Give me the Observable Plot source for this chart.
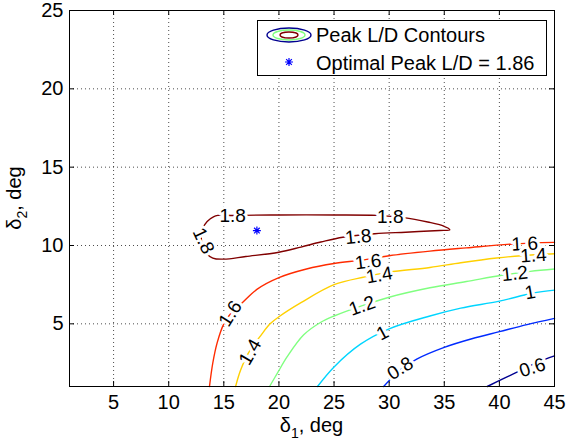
<!DOCTYPE html>
<html><head><meta charset="utf-8">
<script src="https://cdn.jsdelivr.net/npm/d3@7"></script>
<script src="https://cdn.jsdelivr.net/npm/@observablehq/plot@0.6"></script>
<style>
body{margin:0;background:#fff;}
#chart{position:relative;width:566px;height:441px;font-family:"Liberation Sans",Arial,Helvetica,sans-serif;}
#legend{position:absolute;left:257px;top:20px;width:288px;height:54px;border:1px solid #000;background:#fff;}
#legend svg{position:absolute;left:0;top:0;}
</style></head><body><div id="chart"></div>
<script>
// ---- data ----
const xTicks = [5, 10, 15, 20, 25, 30, 35, 40, 45];
const yTicks = [5, 10, 15, 20, 25];
const levels = [0.6, 0.8, 1.0, 1.2, 1.4, 1.6, 1.8];
const levelColors = ["#000090", "#002BFF", "#00D5FF", "#80FF80", "#FFD000", "#FF2B00", "#800000"];

const contour06 = [[38.9,1],[40.5,1.55],[42,2.05],[43.5,2.55],[45,2.95]];
const contour08 = [[29.5,1],[31,2.05],[32.5,2.75],[35,3.5],[37.5,4.05],[40,4.5],[42.5,4.95],[45,5.35]];
const contour10 = [[23.5,1],[25,2.25],[27.4,3.7],[30,4.68],[33.7,5.5],[36.5,6.0],[40,6.45],[43,6.95],[45,7.15]];
const contour12 = [[19.15,1],[19.9,1.9],[20.75,2.9],[22.25,4.3],[23.8,5.1],[25,5.5],[27.5,6.15],[30,6.7],[33.7,7.3],[37,7.7],[40.2,8.1],[42.8,8.35],[45,8.5]];
const contour14 = [[16.07,1],[16.5,2.0],[17.2,3.1],[18.4,4.3],[19.2,5.0],[20,5.45],[22,6.35],[25,7.5],[27.8,8.0],[30,8.3],[33.7,8.6],[36.5,8.9],[39.75,9.2],[42,9.35],[45,9.47]];
const contour16 = [[13.7,1],[14.0,2.5],[14.4,3.8],[15.0,5.0],[15.8,5.8],[16.6,6.3],[18,7.2],[20,7.95],[22.5,8.5],[25,8.85],[27.5,9.07],[30,9.35],[33.7,9.64],[37,9.85],[41.2,10.1],[45,10.2]];
const contour18 = [[14.1,11.85],[16,11.92],[20,11.95],[25,11.95],[28.9,11.92],[31.3,11.78],[33.5,11.5],[34.9,11.25],[35.5,11.0],[34.6,10.96],[31.5,10.85],[28.7,10.75],[25.8,10.53],[23.8,10.22],[22,9.9],[20,9.57],[17,9.3],[15,9.13],[14.0,9.2],[13.2,9.7],[12.95,10.5],[13.05,11.07]];

const labelLevels = [1.8, 1.8, 1.8, 1.8, 1.6, 1.6, 1.6, 1.4, 1.4, 1.4, 1.2, 1.2, 1, 1, 0.8, 0.6];
const labelX      = [15.8, 30.1, 27.2, 13.15, 15.6, 28.1, 42.3, 17.4, 29.1, 43.1, 27.55, 41.4, 29.4, 42.8, 31.0, 43.0];
const labelY      = [11.9, 11.85, 10.55, 10.3, 5.65, 8.95, 10.1, 3.2, 8.1, 9.36, 6.15, 8.2, 4.4, 7.0, 2.15, 2.2];
const labelAngle  = [0, 0, -6, 65, -58, -7, -3, -60, -10, -4, -20, -6, -28, -10, -32, -18];

const optimum = {x: 18, y: 10.95};
const legendItems = ["Peak L/D Contours", "Optimal Peak L/D = 1.86"];
const xTitle = ["δ", "1", ", deg"];
const yTitle = ["δ", "2", ", deg"];

// ---- build tables ----
const openCurves = [contour06, contour08, contour10, contour12, contour14, contour16];
const openRows = openCurves.flatMap((pts, i) => pts.map(([x, y]) => ({level: levels[i], x, y})));
const loopRows = contour18.map(([x, y]) => ({level: 1.8, x, y}));
const labelRows = labelLevels.map((l, i) => ({level: l, x: labelX[i], y: labelY[i], angle: labelAngle[i]}));

const asterisk = {
  draw(context, size) {
    const r = Math.sqrt(size / Math.PI);
    const d = r * Math.SQRT1_2;
    context.moveTo(-r, 0); context.lineTo(r, 0);
    context.moveTo(0, -r); context.lineTo(0, r);
    context.moveTo(-d, -d); context.lineTo(d, d);
    context.moveTo(-d, d); context.lineTo(d, -d);
  }
};

const font = "'Liberation Sans', Arial, Helvetica, sans-serif";
const plot = Plot.plot({
  width: 566, height: 441,
  marginLeft: 69, marginRight: 12, marginTop: 10, marginBottom: 55,
  x: {domain: [1, 45]},
  y: {domain: [1, 25]},
  color: {type: "ordinal", domain: levels, range: levelColors},
  style: {fontFamily: font, fontSize: "20px", color: "#000", background: "#fff", overflow: "visible"},
  marks: [
    Plot.gridX(xTicks, {stroke: "#000", strokeOpacity: 0.7, strokeDasharray: "1,3"}),
    Plot.gridY(yTicks, {stroke: "#000", strokeOpacity: 0.7, strokeDasharray: "1,3"}),
    Plot.line(openRows, {x: "x", y: "y", z: "level", stroke: "level", strokeWidth: 1.4, curve: "catmull-rom"}),
    Plot.line(loopRows, {x: "x", y: "y", z: "level", stroke: "level", strokeWidth: 1.4, curve: "catmull-rom-closed"}),
    Plot.text(labelRows, {x: "x", y: "y", text: d => String(d.level), rotate: "angle", fontSize: 19,
      fill: "#000", stroke: "#fff", strokeWidth: 6, paintOrder: "stroke", textAnchor: "middle", lineAnchor: "middle"}),
    Plot.dot([optimum], {x: "x", y: "y", symbol: asterisk, r: 4, stroke: "#0000FF", strokeWidth: 1.2}),
    Plot.ruleX(xTicks, {insetTop: 371, stroke: "#000"}),
    Plot.ruleX(xTicks, {insetBottom: 371, stroke: "#000"}),
    Plot.ruleY(yTicks, {insetRight: 480, stroke: "#000"}),
    Plot.ruleY(yTicks, {insetLeft: 480, stroke: "#000"}),
    Plot.frame({stroke: "#000", strokeWidth: 1}),
    Plot.axisX(xTicks, {tickSize: 0, tickPadding: 8, fontSize: 20, label: null}),
    Plot.axisY(yTicks, {tickSize: 0, tickPadding: 6, fontSize: 20, label: null})
  ]
});

const svg = d3.select(plot);
const xs = plot.scale("x"), ys = plot.scale("y");
const xl = svg.append("text").attr("x", xs.apply(23)).attr("y", 432)
  .attr("text-anchor", "middle").attr("font-size", 20).attr("fill", "#000").attr("font-family", font);
xl.append("tspan").text(xTitle[0]);
xl.append("tspan").attr("font-size", 14).attr("dy", 6).text(xTitle[1]);
xl.append("tspan").attr("dy", -6).text(xTitle[2]);
const yl = svg.append("text").attr("transform", `translate(21,${ys.apply(13)}) rotate(-90)`)
  .attr("text-anchor", "middle").attr("font-size", 20).attr("fill", "#000").attr("font-family", font);
yl.append("tspan").text(yTitle[0]);
yl.append("tspan").attr("font-size", 14).attr("dy", 6).text(yTitle[1]);
yl.append("tspan").attr("dy", -6).text(yTitle[2]);

const chart = document.getElementById("chart");
chart.appendChild(plot);

// legend
const leg = d3.select(chart).append("div").attr("id", "legend");
const ls = leg.append("svg").attr("width", 288).attr("height", 54);
const ellipses = [[22, 7, levelColors[0]], [16, 5, levelColors[3]], [9, 3, levelColors[6]]];
ellipses.forEach(([rx, ry, c]) => ls.append("ellipse").attr("cx", 31).attr("cy", 14)
  .attr("rx", rx).attr("ry", ry).attr("fill", "none").attr("stroke", c).attr("stroke-width", 1.4));
const ap = d3.path(); asterisk.draw(ap, 16 * Math.PI);
ls.append("path").attr("d", ap.toString()).attr("transform", "translate(31,41)")
  .attr("stroke", "#0000FF").attr("stroke-width", 1.2).attr("fill", "none");
legendItems.forEach((t, i) => ls.append("text").attr("x", 58).attr("y", 14 + i * 27.5)
  .attr("dy", "0.35em").attr("font-size", 20).attr("font-family", font).attr("fill", "#000").text(t));
</script></body></html>
